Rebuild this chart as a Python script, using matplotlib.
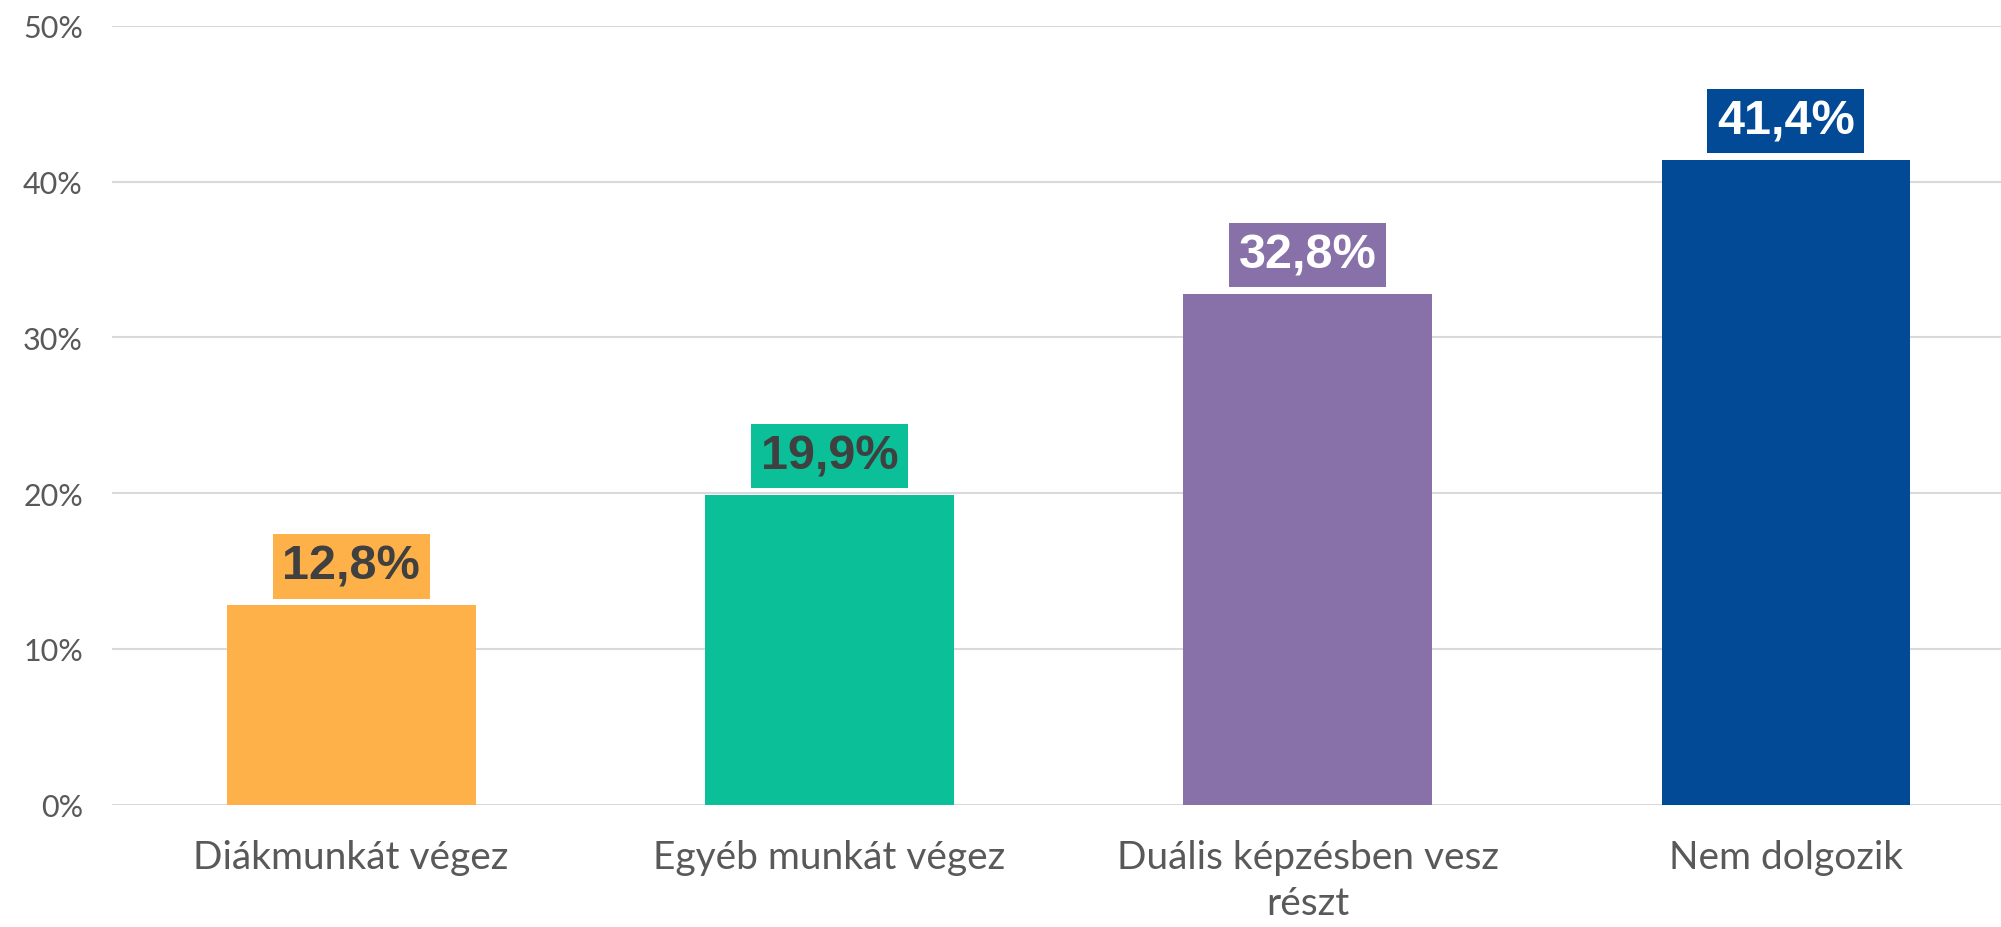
import matplotlib.pyplot as plt
from matplotlib.ticker import FuncFormatter

# adatok
categories = ["Diákmunkát végez", "Egyéb munkát végez", "Duális képzésben vesz\nrészt", "Nem dolgozik"]
values = [12.8, 19.9, 32.8, 41.4]
labels = ["12,8%", "19,9%", "32,8%", "41,4%"]
colors = ["#FDB148", "#0BBF99", "#8870A8", "#024A96"]
label_colors = ["#404040", "#404040", "white", "white"]

fig = plt.figure(figsize=(20.01, 9.28), dpi=100)
ax = fig.add_axes([0.056, 0.1318, 0.956, 0.8394])

x = range(len(categories))
bars = ax.bar(x, values, width=0.52, color=colors, zorder=3)

# címkék a oszlopok fölött
for b, lab, bc, tc in zip(bars, labels, colors, label_colors):
    ax.annotate(lab, xy=(b.get_x() + b.get_width() / 2, b.get_height()),
                xytext=(0, 28), textcoords="offset points",
                ha="center", va="center", fontsize=35, fontweight="bold",
                family="Liberation Sans", color=tc, zorder=4,
                bbox=dict(boxstyle="square,pad=0.2", fc=bc, ec="none"))

ax.set_xlim(-0.5, 3.5)
ax.set_ylim(0, 50)
ax.set_yticks([0, 10, 20, 30, 40, 50])
ax.yaxis.set_major_formatter(FuncFormatter(lambda v, p: "%d%%" % v))
ax.set_xticks(list(x))
ax.set_xticklabels(categories, linespacing=1.32)

ax.grid(axis="y", color="#D9D9D9", linewidth=1.5, zorder=0)
ax.tick_params(axis="y", length=0, pad=21, labelsize=22, labelcolor="#595959")
ax.tick_params(axis="x", length=0, pad=25, labelsize=28, labelcolor="#595959")
for lbl in ax.get_xticklabels() + ax.get_yticklabels():
    lbl.set_family("Lato")
for s in ax.spines.values():
    s.set_visible(False)

plt.savefig("out.png", dpi=100)
